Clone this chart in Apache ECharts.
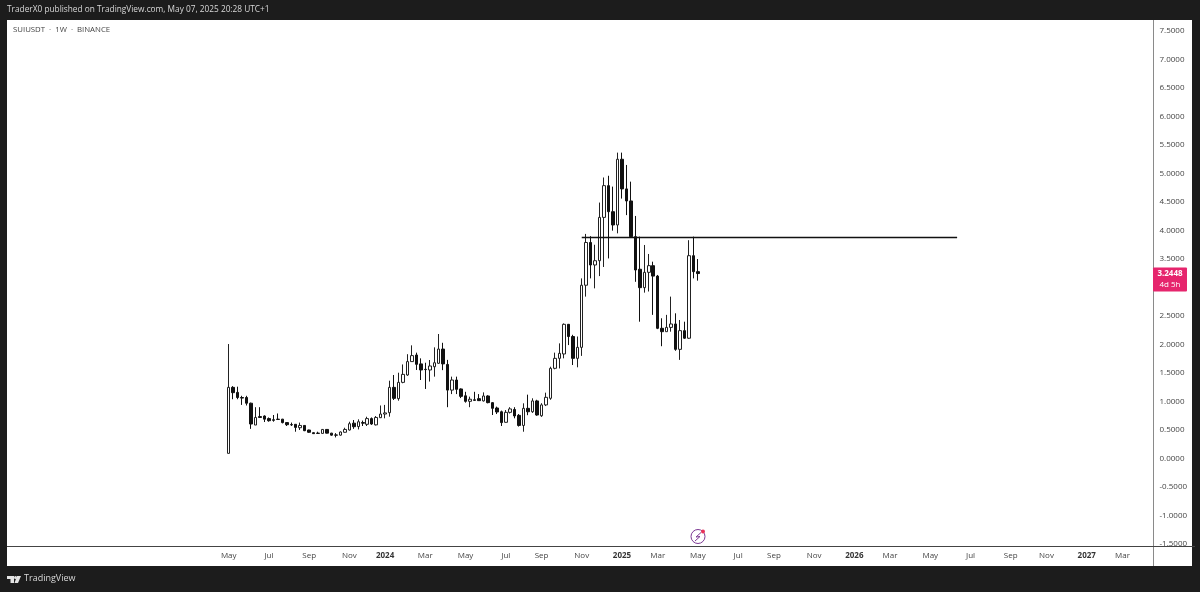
<!DOCTYPE html>
<html>
<head>
<meta charset="utf-8">
<style>
  html, body { margin: 0; padding: 0; background: #1c1c1c; }
  #chart { width: 1200px; height: 592px; }
</style>
<script src="https://cdn.jsdelivr.net/npm/echarts@6/dist/echarts.min.js"></script>
</head>
<body>
<div id="chart"></div>
<script>
/* SUIUSDT weekly, values */
var opens = [0.09, 1.248, 1.16, 1.07, 1.07, 0.97, 0.587, 0.735, 0.745, 0.70, 0.68, 0.69, 0.69, 0.63, 0.595, 0.60, 0.54, 0.58, 0.50, 0.453, 0.445, 0.44, 0.51, 0.445, 0.413, 0.41, 0.46, 0.50, 0.62, 0.56, 0.63, 0.60, 0.70, 0.59, 0.716, 0.78,
  0.804, 1.248, 1.05, 1.336, 1.465, 1.70, 1.816, 1.66, 1.565, 1.553, 1.61, 1.67, 1.92, 1.65, 1.20, 1.377, 1.22, 1.10, 1.003, 1.03, 1.05, 1.01, 1.097, 0.98, 0.886, 0.82, 0.635, 0.81, 0.86, 0.757, 0.58, 0.88, 0.82, 1.01, 0.75, 0.94,
  1.056, 1.582, 1.757, 1.834, 2.354, 2.14, 1.757, 1.95, 3.04, 3.79, 3.395, 3.47, 4.23, 4.787, 4.33, 4.097, 5.25, 4.73, 4.518, 3.892, 3.32, 2.997, 3.266, 3.383, 3.2, 2.284, 2.225, 2.30, 2.36, 1.915, 2.243, 2.11, 3.558, 3.278];
var closes = [1.248, 1.155, 1.07, 1.06, 0.97, 0.605, 0.72, 0.72, 0.69, 0.663, 0.67, 0.685, 0.63, 0.593, 0.59, 0.546, 0.58, 0.488, 0.46, 0.436, 0.44, 0.51, 0.445, 0.41, 0.41, 0.465, 0.51, 0.61, 0.558, 0.645, 0.62, 0.70, 0.605, 0.72, 0.78, 0.80,
  1.248, 1.055, 1.336, 1.476, 1.70, 1.805, 1.652, 1.553, 1.56, 1.623, 1.68, 1.92, 1.66, 1.20, 1.377, 1.213, 1.09, 1.003, 1.04, 1.02, 1.015, 1.097, 0.98, 0.88, 0.816, 0.63, 0.81, 0.87, 0.746, 0.58, 0.88, 0.82, 1.01, 0.763, 0.94, 1.073,
  1.582, 1.757, 1.845, 2.354, 2.14, 1.757, 1.95, 3.04, 3.79, 3.395, 3.47, 4.23, 4.787, 4.33, 4.097, 5.25, 4.73, 4.518, 3.892, 3.307, 2.997, 3.266, 3.383, 3.2, 2.284, 2.225, 2.30, 2.36, 1.915, 2.243, 2.11, 3.558, 3.278, 3.2448];
var lows = [0.09, 1.04, 1.04, 0.94, 0.93, 0.52, 0.587, 0.71, 0.64, 0.646, 0.646, 0.675, 0.616, 0.57, 0.57, 0.47, 0.50, 0.48, 0.45, 0.43, 0.43, 0.44, 0.44, 0.40, 0.37, 0.40, 0.455, 0.49, 0.52, 0.51, 0.57, 0.57, 0.59, 0.58, 0.71, 0.705,
  0.734, 1.026, 1.014, 1.32, 1.45, 1.70, 1.553, 1.377, 1.22, 1.35, 1.436, 1.66, 1.55, 0.90, 1.13, 1.13, 1.06, 0.98, 0.90, 1.01, 1.01, 1.0, 0.968, 0.763, 0.78, 0.57, 0.63, 0.79, 0.705, 0.56, 0.47, 0.76, 0.80, 0.75, 0.73, 0.92,
  1.03, 1.565, 1.58, 1.757, 1.99, 1.64, 1.60, 1.80, 2.84, 3.16, 2.985, 3.2, 3.36, 3.51, 3.997, 3.95, 4.56, 4.27, 3.88, 3.10, 2.40, 2.91, 2.93, 2.52, 2.27, 1.97, 2.225, 2.225, 1.89, 1.73, 2.10, 2.10, 3.16, 3.12];
var highs = [2.008, 1.27, 1.26, 1.10, 1.10, 0.98, 0.90, 0.90, 0.757, 0.72, 0.763, 0.79, 0.695, 0.634, 0.63, 0.605, 0.63, 0.585, 0.505, 0.46, 0.47, 0.515, 0.515, 0.45, 0.445, 0.475, 0.54, 0.645, 0.675, 0.687, 0.665, 0.733, 0.72, 0.745, 0.93, 0.94,
  1.365, 1.465, 1.505, 1.65, 1.83, 1.985, 1.857, 1.757, 1.68, 1.728, 1.95, 2.184, 2.03, 1.73, 1.436, 1.436, 1.23, 1.17, 1.085, 1.17, 1.13, 1.16, 1.11, 0.99, 0.91, 0.84, 0.85, 0.90, 0.90, 0.78, 0.968, 1.12, 1.056, 1.03, 0.97, 1.155,
  1.61, 1.857, 2.02, 2.37, 2.36, 2.17, 2.14, 3.16, 3.94, 3.90, 3.75, 4.49, 4.93, 4.96, 4.77, 5.366, 5.366, 5.15, 4.857, 4.255, 3.892, 3.746, 3.588, 3.453, 3.22, 2.46, 2.52, 2.84, 2.547, 2.43, 2.40, 3.83, 3.892, 3.50];

var tickDates = ['2023-05-01', '2023-07-03', '2023-09-04', '2023-11-06', '2024-01-01', '2024-03-04', '2024-05-06', '2024-07-08', '2024-09-02', '2024-11-04', '2025-01-06', '2025-03-03',
  '2025-05-05', '2025-07-07', '2025-09-01', '2025-11-03', '2026-01-05', '2026-03-02', '2026-05-04', '2026-07-06', '2026-09-07', '2026-11-02', '2027-01-04', '2027-03-01'];
var tickLabels = ['May', 'Jul', 'Sep', 'Nov', '2024', 'Mar', 'May', 'Jul', 'Sep', 'Nov', '2025', 'Mar',
  'May', 'Jul', 'Sep', 'Nov', '2026', 'Mar', 'May', 'Jul', 'Sep', 'Nov', '2027', 'Mar'];

var levelDates = ['2024-11-04', '2026-06-15'];
var levelPrice = 3.877;
var lastPrice = '3.2448';
var countdown = '4d 5h';

var WEEK = 7 * 24 * 3600 * 1000;
var weeksBefore = 49;
var weekCount = 256;
var firstWeek = Date.UTC(2023, 4, 1);

var weekOf = function (n) {
    return new Date(firstWeek + n * WEEK).toISOString().slice(0, 10);
};

var weeks = [];
for (var w = -weeksBefore; w < weekCount - weeksBefore; w++) {
    weeks.push(weekOf(w));
}

var candles = [];
for (var i = 0; i < opens.length; i++) {
    candles.push([weekOf(i), opens[i], closes[i], lows[i], highs[i]]);
}

var uiFont = '"Open Sans", "Noto Sans", sans-serif';

var option = {
    backgroundColor: '#1c1c1c',
    animation: false,
    grid: { left: 7.5, width: 1144, top: 31, height: 513 },
    xAxis: {
        type: 'category',
        data: weeks,
        axisLine: { show: false },
        axisTick: { show: false },
        splitLine: { show: false },
        axisLabel: {
            interval: function (idx, value) {
                return tickDates.indexOf(value) >= 0;
            },
            formatter: function (value) {
                var label = tickLabels[tickDates.indexOf(value)];
                return label.length === 4 ? '{year|' + label + '}' : label;
            },
            color: '#444',
            fontSize: 8,
            fontFamily: uiFont,
            margin: 8,
            hideOverlap: false,
            rich: {
                year: { color: '#333', fontSize: 8, fontWeight: 'bold', fontFamily: uiFont }
            }
        }
    },
    yAxis: {
        type: 'value',
        position: 'right',
        min: -1.5,
        max: 7.5,
        interval: 0.5,
        axisLine: { show: false },
        axisTick: { show: false },
        splitLine: { show: false },
        axisLabel: {
            margin: 8,
            padding: [2, 0, 0, 0],
            color: '#444',
            fontSize: 8,
            fontFamily: uiFont,
            formatter: function (v) {
                return v.toFixed(4);
            }
        }
    },
    series: [{
        name: 'SUIUSDT',
        type: 'candlestick',
        barWidth: 3,
        encode: { x: 0, y: [1, 2, 3, 4] },
        itemStyle: {
            color: '#ffffff',
            color0: '#111111',
            borderColor: '#222222',
            borderColor0: '#111111',
            borderWidth: 1
        },
        data: candles
    }, {
        name: 'level',
        type: 'line',
        symbol: 'none',
        silent: true,
        lineStyle: { color: '#111111', width: 1.6 },
        data: [[levelDates[0], levelPrice], [levelDates[1], levelPrice]]
    }],
    graphic: [
        { type: 'rect', z: -10, shape: { x: 7, y: 20, width: 1185, height: 546 }, style: { fill: '#ffffff' } },
        { type: 'line', z: 5, shape: { x1: 1153.5, y1: 20, x2: 1153.5, y2: 566 }, style: { stroke: '#8a8a8a', lineWidth: 1 } },
        { type: 'line', z: 5, shape: { x1: 7, y1: 546.5, x2: 1195, y2: 546.5 }, style: { stroke: '#444444', lineWidth: 1 } },
        { type: 'text', x: 7, y: 6, style: { text: 'TraderX0 published on TradingView.com, May 07, 2025 20:28 UTC+1', fill: '#d8d8d8', font: '8.3px ' + uiFont } },
        { type: 'text', x: 13, y: 26, style: { text: 'SUIUSDT  ·  1W  ·  BINANCE', fill: '#444', font: '7.8px ' + uiFont } },
        { type: 'text', x: 24, y: 574, style: { text: 'TradingView', fill: '#d8d8d8', font: '9px ' + uiFont } },
        { type: 'polygon', shape: { points: [[7, 576], [14, 576], [14, 583], [10.5, 583], [10.5, 579], [7, 579]] }, style: { fill: '#e4e4e4' } },
        { type: 'circle', shape: { cx: 15.5, cy: 577.5, r: 1.5 }, style: { fill: '#e4e4e4' } },
        { type: 'polygon', shape: { points: [[17, 576], [21, 576], [18, 583], [14.5, 583]] }, style: { fill: '#e4e4e4' } },
        { type: 'circle', shape: { cx: 698, cy: 536.5, r: 7 }, style: { fill: 'none', stroke: '#7d3a94', lineWidth: 1 } },
        { type: 'polyline', shape: { points: [[701, 532.5], [696, 537], [700, 536.5], [695, 541]] }, style: { fill: 'none', stroke: '#7d3a94', lineWidth: 1 } },
        { type: 'circle', shape: { cx: 703, cy: 531.5, r: 2 }, style: { fill: '#e8335a' } }
    ]
};

var myChart = echarts.init(document.getElementById('chart'), null, { renderer: 'canvas' });
myChart.setOption(option);

// price tag follows the axis scale
var tagY = myChart.convertToPixel({ yAxisIndex: 0 }, Number(lastPrice));
myChart.setOption({
    graphic: option.graphic.concat([
        { type: 'rect', z: 100, shape: { x: 1153, y: tagY - 6, width: 34, height: 24, r: 1 }, style: { fill: '#e6256d' } },
        { type: 'text', z: 101, x: 1170, y: tagY, style: { text: lastPrice, fill: '#fff', font: 'bold 8px ' + uiFont, align: 'center', verticalAlign: 'middle' } },
        { type: 'text', z: 101, x: 1170, y: tagY + 11, style: { text: countdown, fill: '#fff', font: '8px ' + uiFont, align: 'center', verticalAlign: 'middle' } }
    ])
});
</script>
</body>
</html>
